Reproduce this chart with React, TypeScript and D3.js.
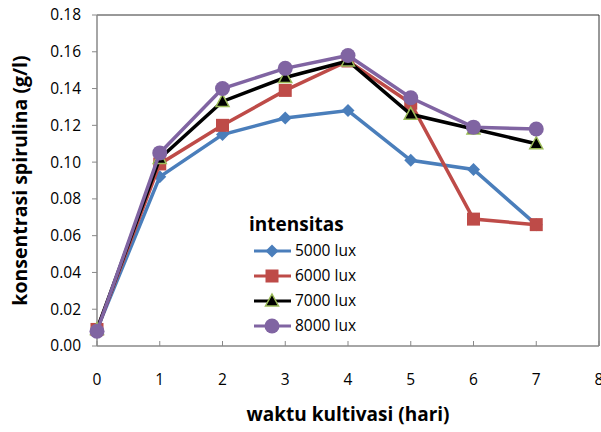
import * as d3 from "d3";

const days = [0, 1, 2, 3, 4, 5, 6, 7];
const lux5000 = [0.009, 0.092, 0.115, 0.124, 0.128, 0.101, 0.096, 0.066];
const lux6000 = [0.009, 0.099, 0.12, 0.139, 0.155, 0.132, 0.069, 0.066];
const lux7000 = [0.009, 0.102, 0.133, 0.146, 0.155, 0.126, 0.118, 0.11];
const lux8000 = [0.008, 0.105, 0.14, 0.151, 0.158, 0.135, 0.119, 0.118];
const yTicks = [0, 0.02, 0.04, 0.06, 0.08, 0.1, 0.12, 0.14, 0.16, 0.18];
const xTicks = [0, 1, 2, 3, 4, 5, 6, 7, 8];

const series = [
  { name: "5000 lux", values: lux5000, color: "#4A7EBB", marker: "diamond" },
  { name: "6000 lux", values: lux6000, color: "#BE4B48", marker: "square" },
  { name: "7000 lux", values: lux7000, color: "#000000", marker: "triangle" },
  { name: "8000 lux", values: lux8000, color: "#8064A2", marker: "circle" },
];

const W = 601, H = 432;
const L = 97, R = 599, T = 15, B = 346;
const font = "'Open Sans', sans-serif";

function Marker({ type, x, y, color }: { type: string; x: number; y: number; color: string }) {
  if (type === "diamond") {
    const s = 6.5;
    return <path d={`M${x},${y - s}L${x + s},${y}L${x},${y + s}L${x - s},${y}Z`} fill={color} />;
  }
  if (type === "square") {
    return <rect x={x - 6.5} y={y - 6.5} width={13} height={13} fill={color} />;
  }
  if (type === "triangle") {
    return <path d={`M${x},${y - 7}L${x + 6.5},${y + 5}L${x - 6.5},${y + 5}Z`} fill="#000" stroke="#9BBB59" strokeWidth={1.5} />;
  }
  return <circle cx={x} cy={y} r={7.5} fill={color} />;
}

export default function App() {
  const x = d3.scaleLinear().domain([0, 8]).range([L, R]);
  const y = d3.scaleLinear().domain([0, 0.18]).range([B, T]);
  const line = d3.line<number>().x((_, i) => x(days[i])).y((d) => y(d));

  return (
    <svg width={W} height={H} style={{ position: "absolute", left: 0, top: 0 }} fontFamily={font}>
      <rect width={W} height={H} fill="#fff" />
      {/* plot border */}
      <line x1={L} x2={R} y1={T} y2={T} stroke="#333" strokeWidth={1} />
      <line x1={R} x2={R} y1={T} y2={B} stroke="#333" strokeWidth={1} />
      {/* axes */}
      <line x1={L} x2={L} y1={T} y2={B} stroke="#888" strokeWidth={1.5} />
      <line x1={L} x2={R} y1={B} y2={B} stroke="#888" strokeWidth={1.5} />
      {yTicks.map((t) => (
        <g key={t}>
          <line x1={L - 5} x2={L} y1={y(t)} y2={y(t)} stroke="#888" />
          <text x={L - 16} y={y(t)} dy="0.35em" textAnchor="end" fontSize={15.5}>
            {t.toFixed(2)}
          </text>
        </g>
      ))}
      {xTicks.map((t) => (
        <g key={t}>
          <line x1={x(t)} x2={x(t)} y1={B} y2={B - 5} stroke="#888" />
          <text x={x(t)} y={380} dy="0.35em" textAnchor="middle" fontSize={15.5}>
            {t}
          </text>
        </g>
      ))}
      <text x={348} y={421} textAnchor="middle" fontSize={19} fontWeight="bold">
        waktu kultivasi (hari)
      </text>
      <text transform={`translate(27,${(T + B) / 2}) rotate(-90)`} textAnchor="middle" fontSize={19.5} fontWeight="bold">
        konsentrasi spirulina (g/l)
      </text>
      {series.map((s) => (
        <g key={s.name}>
          <path d={line(s.values) || ""} fill="none" stroke={s.color} strokeWidth={3.5} />
          {s.values.map((v, i) => (
            <Marker key={i} type={s.marker} x={x(days[i])} y={y(v)} color={s.color} />
          ))}
        </g>
      ))}
      {/* legend */}
      <text x={249} y={231} fontSize={19} fontWeight="bold">intensitas</text>
      {series.map((s, i) => {
        const ly = 251 + i * 25;
        return (
          <g key={s.name}>
            <line x1={254} x2={291} y1={ly} y2={ly} stroke={s.color} strokeWidth={3} />
            <Marker type={s.marker} x={272} y={ly} color={s.color} />
            <text x={295} y={ly} dy="0.35em" fontSize={15.5}>{s.name}</text>
          </g>
        );
      })}
    </svg>
  );
}
